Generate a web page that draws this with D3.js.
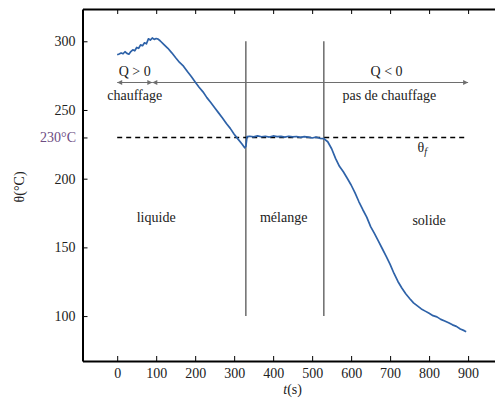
<!DOCTYPE html>
<html>
<head>
<meta charset="utf-8">
<script src="https://cdn.jsdelivr.net/npm/d3@7"></script>
<style>
  body { margin: 0; background: #fff; }
  svg text { font-family: "Liberation Serif", "DejaVu Serif", "Noto Serif", "Times New Roman", Times, Georgia, serif !important; }
  .axis path, .axis line { stroke: #000; }
  .axis path { stroke-width: 2; }
  .axis line { stroke-width: 1; }
</style>
</head>
<body>
<div class="container"></div>
<script>
const WIDTH = 495;
const HEIGHT = 403;

// time (s) and temperature (°C)
const times = [0,5,10,15,20,25,30,35,40,45,50,55,60,65,70,75,80,85,90,95,100,105,110,120,130,140,150,160,170,180,190,
  200,210,220,230,240,250,260,270,280,290,300,310,320,327,330,333,340,350,360,370,
  380,390,400,410,420,430,440,450,460,470,480,490,500,510,520,530,540,550,560,570,
  580,590,600,610,620,630,640,650,660,670,680,690,700,710,720,730,740,750,760,770,
  780,790,800,810,820,830,840,850,860,870,880,890,895];
const temps = [290.2,290.8,291.5,290.9,292.4,291.2,290.6,292.5,293.8,293.1,295.5,294.9,297.4,296.8,298.9,298.2,301.8,300.9,302.4,301.4,302.0,301.6,300.4,297.6,294.9,291.6,288.0,284.6,281.9,278.0,274.3,
  270.4,266.6,263.2,259.0,255.4,251.6,247.9,244.2,240.1,236.6,232.4,228.8,225.3,222.5,223.5,230.6,230.9,230.4,231.2,230.5,
  230.9,230.3,231.1,230.6,230.8,230.2,230.9,230.4,230.7,230.1,230.6,230.3,229.6,230.2,229.4,229.2,226.9,221.8,214.8,209.0,
  205.0,200.3,195.4,189.6,183.2,177.4,172.0,165.1,160.0,154.6,149.0,143.4,137.6,131.0,125.2,120.4,116.2,112.8,109.6,107.4,
  105.2,103.6,102.0,100.3,99.4,97.6,96.4,95.1,93.6,92.5,90.6,89.4,88.6];

const xTicks = [0,100,200,300,400,500,600,700,800,900];
const yTicks = [100,150,200,230,250,300];
const yLabels = [100,150,200,250,300];

const fusionTemp = 230;
const phaseBounds = [330, 530];
const heatSwitch = 90;
const endTime = 900;
const arrowLevel = 270;

const phases = [
  {label: "liquide", t: 100, v: 172},
  {label: "mélange", t: 427, v: 172},
  {label: "solide", t: 800, v: 170}
];

var xScale = d3.scaleLinear().domain([-89, 969]).range([82.5, 495]);
var yScale = d3.scaleLinear().domain([67.3, 323.5]).range([361, 9]);

var svg = d3.select('.container').append('svg')
  .attr('width', WIDTH).attr('height', HEIGHT)
  .attr('font-size', 14);

svg.append('defs').selectAll('marker')
  .data(['ah'])
  .enter().append('marker')
  .attr('id', d => d)
  .attr('viewBox', '0 0 10 10')
  .attr('refX', 10).attr('refY', 5)
  .attr('markerWidth', 7).attr('markerHeight', 5)
  .attr('orient', 'auto-start-reverse')
  .attr('markerUnits', 'userSpaceOnUse')
  .append('path').attr('d', 'M0,0L10,5L0,10z').attr('fill', '#6e6e6e');

// axes: left, bottom, top (ticks pointing inward)
svg.append('g').attr('class', 'axis')
  .attr('transform', 'translate(0,361)')
  .call(d3.axisBottom(xScale).tickValues(xTicks).tickSize(-5).tickSizeOuter(0).tickPadding(7));

svg.append('g').attr('class', 'axis')
  .attr('transform', 'translate(0,9)')
  .call(d3.axisTop(xScale).tickValues(xTicks).tickSize(-5).tickSizeOuter(0).tickFormat(''));

svg.append('g').attr('class', 'axis')
  .attr('transform', 'translate(82.5,0)')
  .call(d3.axisLeft(yScale).tickValues(yTicks).tickSize(-5).tickSizeOuter(0).tickPadding(7)
    .tickFormat(d => yLabels.includes(d) ? d : ''));

svg.selectAll('.axis').attr('font-size', 14);
svg.selectAll('.axis text').attr('fill', '#222');

svg.append('text')
  .attr('x', 76).attr('y', yScale(fusionTemp)).attr('dy', '0.35em')
  .attr('text-anchor', 'end')
  .attr('fill', '#6d4c82')
  .text('230°C');

svg.append('text')
  .attr('transform', 'translate(24,' + yScale(194) + ') rotate(-90)')
  .attr('text-anchor', 'middle').attr('fill', '#222')
  .text('θ(°C)');

var xl = svg.append('text')
  .attr('x', xScale(450)).attr('y', 394)
  .attr('text-anchor', 'middle').attr('fill', '#222');
xl.append('tspan').attr('font-style', 'italic').text('t');
xl.append('tspan').text('(s)');

// phase boundaries
svg.append('g').selectAll('line')
  .data(phaseBounds).enter().append('line')
  .attr('x1', d => xScale(d)).attr('x2', d => xScale(d))
  .attr('y1', yScale(300)).attr('y2', yScale(100))
  .attr('stroke', '#555').attr('stroke-width', 1.3);

// heating arrows
var arrows = [[0, heatSwitch], [heatSwitch, endTime]];
svg.append('g').selectAll('line')
  .data(arrows).enter().append('line')
  .attr('x1', d => xScale(d[0])).attr('x2', d => xScale(d[1]))
  .attr('y1', yScale(arrowLevel)).attr('y2', yScale(arrowLevel))
  .attr('stroke', '#6e6e6e').attr('stroke-width', 1.1)
  .attr('marker-start', 'url(#ah)').attr('marker-end', 'url(#ah)');

var notes = [
  {text: 'Q > 0', t: 45, y: 71},
  {text: 'chauffage', t: 45, y: 95},
  {text: 'Q < 0', t: 691, y: 71},
  {text: 'pas de chauffage', t: 698, y: 95}
];
svg.append('g').selectAll('text')
  .data(notes).enter().append('text')
  .attr('x', d => xScale(d.t)).attr('y', d => d.y).attr('dy', '0.35em')
  .attr('text-anchor', 'middle').attr('fill', '#222')
  .text(d => d.text);

// fusion temperature
svg.append('line')
  .attr('x1', xScale(0)).attr('x2', xScale(endTime))
  .attr('y1', yScale(fusionTemp)).attr('y2', yScale(fusionTemp))
  .attr('stroke', '#000').attr('stroke-width', 1.6)
  .attr('stroke-dasharray', '5,4');

var tf = svg.append('text')
  .attr('x', xScale(770)).attr('y', yScale(fusionTemp) + 15).attr('fill', '#222');
tf.append('tspan').text('θ');
tf.append('tspan').attr('font-style', 'italic').attr('font-size', 10).attr('dy', 3).text('f');

// phase names
svg.append('g').selectAll('text')
  .data(phases).enter().append('text')
  .attr('x', d => xScale(d.t)).attr('y', d => yScale(d.v)).attr('dy', '0.35em')
  .attr('text-anchor', 'middle').attr('fill', '#222')
  .text(d => d.label);

// cooling curve
var points = times.map((t, i) => ({t: t, v: temps[i]}));
var line = d3.line().x(d => xScale(d.t)).y(d => yScale(d.v));
svg.append('path')
  .datum(points)
  .attr('d', line)
  .attr('fill', 'none')
  .attr('stroke', '#2e62a8')
  .attr('stroke-width', 1.7)
  .attr('stroke-linejoin', 'round');
</script>
</body>
</html>
